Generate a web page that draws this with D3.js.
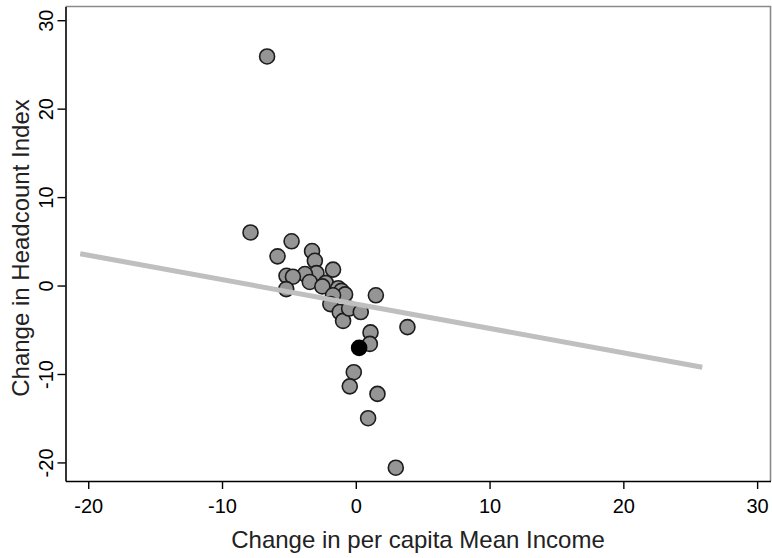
<!DOCTYPE html>
<html>
<head>
<meta charset="utf-8">
<script src="https://cdn.jsdelivr.net/npm/d3@7"></script>
<style>
  html, body { margin: 0; padding: 0; background: #fff; }
  svg { display: block; }
  text { font-family: "Liberation Sans", Arial, Helvetica, sans-serif; }
</style>
</head>
<body>
<svg id="chart" width="772" height="558"></svg>
<script>
// Data
const incomeChange = [-6.63, -7.87, -4.8, -5.85, -3.27, -3.06, -2.94, -3.8, -5.18, -4.7,
  -5.2, -3.44, -2.24, -2.5, -1.7, -1.32, -1.07, -0.8, -1.7, -1.9, -1.2, -0.95, -0.5,
  0.37, 1.5, 3.86, 1.1, 1.05, -0.15, -0.45, 1.62, 0.92, 2.99];
const headcountChange = [25.9, 6.0, 5.0, 3.3, 3.9, 2.8, 1.4, 1.3, 1.1, 1.0,
  -0.4, 0.4, 0.3, -0.1, 1.8, -0.3, -0.6, -1.0, -1.1, -2.1, -3.0, -4.0, -2.6,
  -3.0, -1.1, -4.7, -5.3, -6.6, -9.8, -11.4, -12.25, -15.0, -20.6];
const highlightX = [0.25];
const highlightY = [-7.05];
const fitX = [-20.6, 25.9];
const fitY = [3.6, -9.24];
const xTicks = [-20, -10, 0, 10, 20, 30];
const yTicks = [-20, -10, 0, 10, 20, 30];
const xTitle = "Change in per capita Mean Income";
const yTitle = "Change in Headcount Index";

const svg = d3.select("#chart");
const x = d3.scaleLinear().domain([-21.7, 31.0]).range([65.5, 770.5]);
const y = d3.scaleLinear().domain([-22.1, 31.55]).range([481, 6.5]);
const fmt = d => String(d);

// top & right frame (gray)
svg.append("path")
  .attr("d", `M${x.range()[0]},${y.range()[1]}H${x.range()[1]}V${y.range()[0]}`)
  .attr("fill", "none").attr("stroke", "#8a8a8a").attr("stroke-width", 1.6);

// points
const pts = incomeChange.map((v, i) => ({x: v, y: headcountChange[i]}));
svg.append("g").selectAll("circle").data(pts).join("circle")
  .attr("cx", d => x(d.x)).attr("cy", d => y(d.y)).attr("r", 7.5)
  .attr("fill", "#959595").attr("stroke", "#1c1c1c").attr("stroke-width", 1.6);
svg.append("g").selectAll("circle").data(highlightX.map((v, i) => ({x: v, y: highlightY[i]}))).join("circle")
  .attr("cx", d => x(d.x)).attr("cy", d => y(d.y)).attr("r", 7.5)
  .attr("fill", "#000").attr("stroke", "#000").attr("stroke-width", 1.6);

// fitted line
svg.append("path")
  .datum(fitX.map((v, i) => [v, fitY[i]]))
  .attr("d", d3.line().x(d => x(d[0])).y(d => y(d[1])))
  .attr("fill", "none").attr("stroke", "#bfbfbf").attr("stroke-width", 5);

// axes
const xAxis = svg.append("g").attr("transform", `translate(0,${y.range()[0]})`)
  .call(d3.axisBottom(x).tickValues(xTicks).tickSizeInner(8).tickSizeOuter(0).tickFormat(fmt));
xAxis.select(".domain").attr("stroke", "#000").attr("stroke-width", 1.6);
xAxis.selectAll(".tick line").attr("stroke", "#000").attr("stroke-width", 1.4);
xAxis.selectAll(".tick text").attr("font-size", 20).attr("fill", "#000")
  .attr("y", 32).attr("dy", 0);

const yAxis = svg.append("g").attr("transform", `translate(${x.range()[0]},0)`)
  .call(d3.axisLeft(y).tickValues(yTicks).tickSizeInner(8).tickSizeOuter(0).tickFormat(fmt));
yAxis.select(".domain").attr("stroke", "#000").attr("stroke-width", 1.6);
yAxis.selectAll(".tick line").attr("stroke", "#000").attr("stroke-width", 1.4);
yAxis.selectAll(".tick text").attr("font-size", 20).attr("fill", "#000")
  .attr("x", null).attr("dy", null)
  .attr("text-anchor", "middle")
  .attr("transform", "translate(-13,0) rotate(-90)");

// titles
svg.append("text").attr("x", 418).attr("y", 547.5).attr("text-anchor", "middle")
  .attr("font-size", 24).attr("fill", "#222").text(xTitle);
svg.append("text").attr("transform", "translate(28.5,248) rotate(-90)").attr("text-anchor", "middle")
  .attr("font-size", 24).attr("fill", "#222").text(yTitle);
</script>
</body>
</html>
